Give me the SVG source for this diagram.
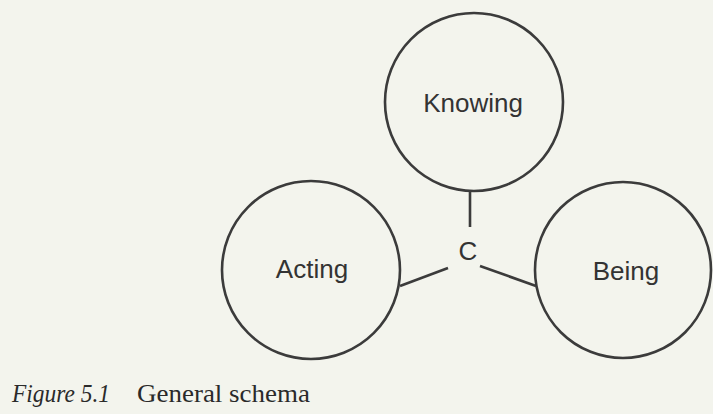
<svg xmlns="http://www.w3.org/2000/svg" width="713" height="414" viewBox="0 0 713 414">
<style>
.node circle{fill:none;stroke:#3b3b3b;stroke-width:2.6}
.lbl{font-family:"Liberation Sans",Arial,sans-serif;font-size:26px;fill:#333;text-anchor:middle}
.conn line{stroke:#3b3b3b;stroke-width:2.6}
.cap{font-family:"Liberation Serif","Times New Roman",serif;font-size:26px;fill:#2a2a2a}
</style>
<rect width="713" height="414" fill="#f3f4ed"/>
<g id="knowing" class="node"><circle cx="474" cy="102" r="89"/><text class="lbl" x="473" y="112">Knowing</text></g>
<g id="acting" class="node"><circle cx="311" cy="270" r="89"/><text class="lbl" x="312" y="278">Acting</text></g>
<g id="being" class="node"><circle cx="623" cy="270" r="88"/><text class="lbl" x="626" y="280">Being</text></g>
<g id="c" class="node"><text class="lbl" x="468" y="260">C</text></g>
<g id="connectors" class="conn">
<line x1="470" y1="191" x2="470" y2="227"/>
<line x1="448" y1="268" x2="400" y2="286"/>
<line x1="480" y1="266" x2="536" y2="286"/>
</g>
<text class="cap" y="402"><tspan x="12" font-style="italic" textLength="98" lengthAdjust="spacingAndGlyphs">Figure 5.1</tspan><tspan x="137" textLength="173" lengthAdjust="spacingAndGlyphs">General schema</tspan></text>
</svg>
